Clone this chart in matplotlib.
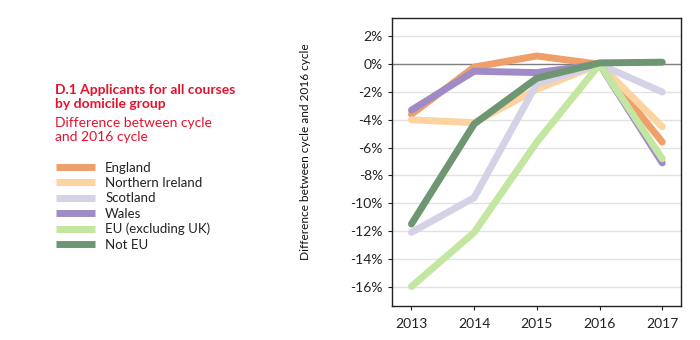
import matplotlib
matplotlib.use("Agg")
import matplotlib.pyplot as plt
from matplotlib.lines import Line2D
from matplotlib.ticker import FuncFormatter

plt.rcParams['font.family'] = ['Lato', 'DejaVu Sans']

years = [2013, 2014, 2015, 2016, 2017]
england = [-3.6, -0.2, 0.6, 0.0, -5.6]
northern_ireland = [-4.0, -4.2, -1.8, 0.0, -4.5]
scotland = [-12.1, -9.6, -1.4, 0.0, -2.0]
wales = [-3.3, -0.5, -0.6, 0.0, -7.1]
eu = [-16.0, -12.1, -5.6, 0.0, -6.8]
not_eu = [-11.5, -4.3, -1.0, 0.1, 0.15]

series = [
    ("England", england, "#EE9F6A"),
    ("Northern Ireland", northern_ireland, "#FDD3A2"),
    ("Scotland", scotland, "#D5D2E8"),
    ("Wales", wales, "#A08BC6"),
    ("EU (excluding UK)", eu, "#C3E6A0"),
    ("Not EU", not_eu, "#6F9672"),
]
y_ticks = [2, 0, -2, -4, -6, -8, -10, -12, -14, -16]

red = "#E8112D"

fig = plt.figure(figsize=(7, 3.4), dpi=100)
ax = fig.add_axes([0.56, 0.1, 0.413, 0.847])

for val in y_ticks:
    if val != 0:
        ax.axhline(val, color="#E2E2E2", lw=1.0, zorder=0)
ax.axhline(0, color="#7F7F7F", lw=1.0, zorder=1)

handles = []
for name, vals, col in series:
    ax.plot(years, vals, color=col, lw=5.0, solid_capstyle="round",
            solid_joinstyle="round", zorder=2)
    handles.append(Line2D([0], [0], color=col, lw=5.0, solid_capstyle="butt"))

ax.set_xlim(2012.69, 2017.3)
ax.set_ylim(-17.4, 3.33)
ax.set_xticks(years)
ax.set_yticks(y_ticks)
ax.yaxis.set_major_formatter(FuncFormatter(lambda v, p: f"{int(round(v))}%"))
ax.tick_params(axis="both", labelsize=10, length=3, width=0.8,
               colors="#222222")
ax.tick_params(axis="x", pad=6)
for sp in ax.spines.values():
    sp.set_color("#222222")
    sp.set_linewidth(1.0)

fig.text(0.437, 0.553, "Difference between cycle and 2016 cycle", rotation=90,
         ha="center", va="center", fontsize=8.6, color="#111111")

fig.text(0.079, 0.714, "D.1 Applicants for all courses\nby domicile group",
         color=red, fontsize=10, fontweight="bold", ha="left", va="center",
         linespacing=1.25)
fig.text(0.079, 0.618, "Difference between cycle\nand 2016 cycle",
         color=red, fontsize=10, ha="left", va="center", linespacing=1.15)

fig.legend(handles, [s[0] for s in series], loc="upper left",
           bbox_to_anchor=(0.073, 0.54), frameon=False, fontsize=9.5,
           handlelength=2.9, handletextpad=0.8, labelspacing=0.25,
           borderaxespad=0, labelcolor="#222222")

fig.savefig("out.png", dpi=100)
